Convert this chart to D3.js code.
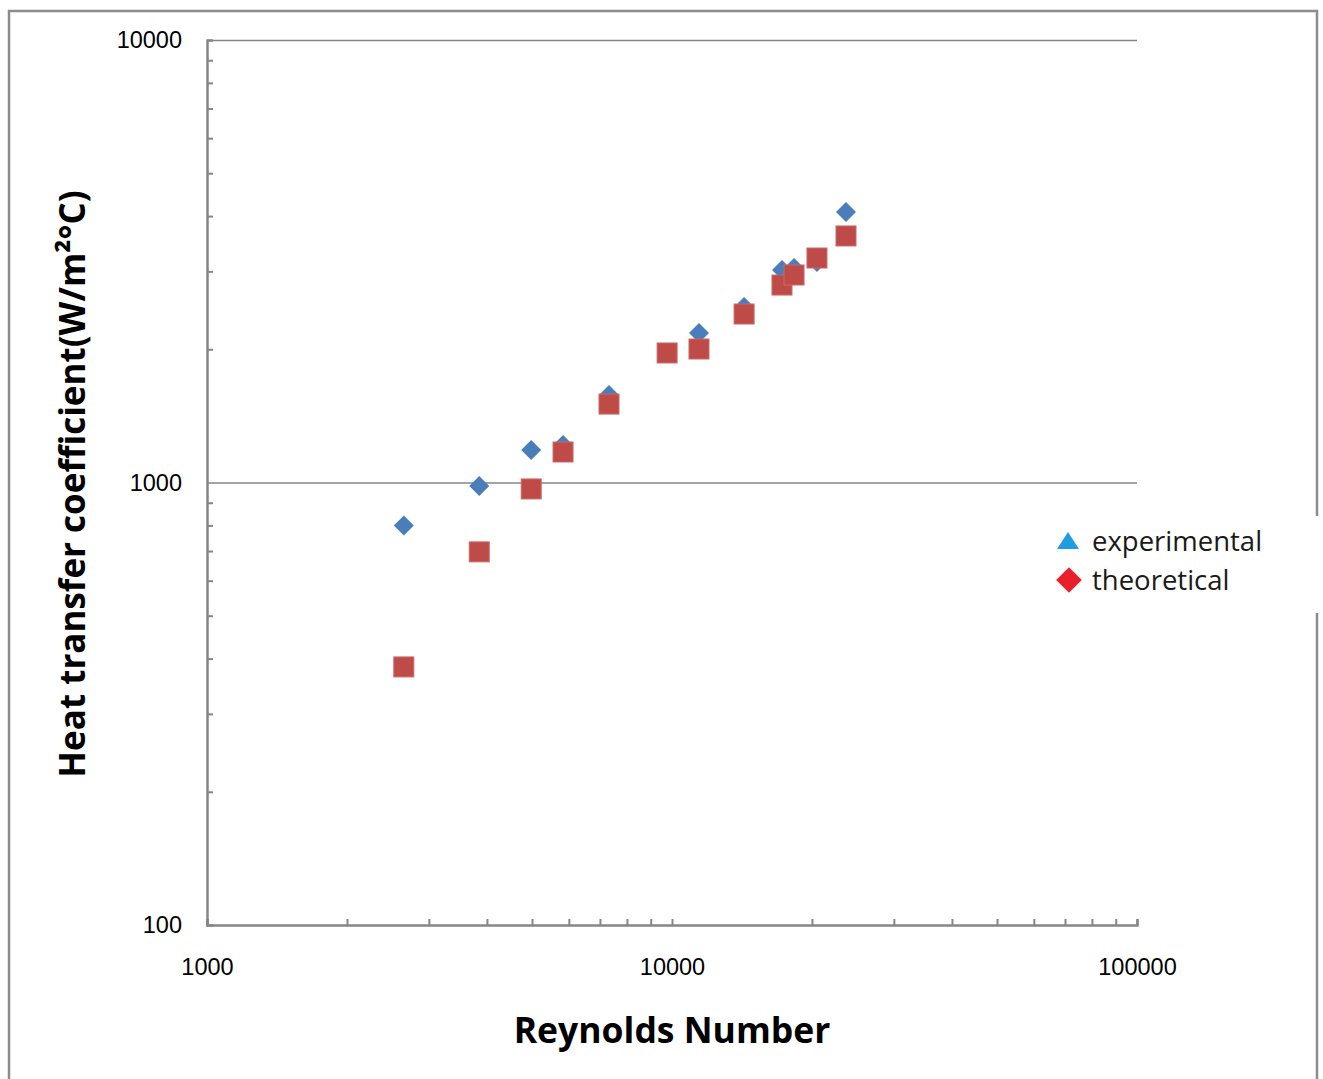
<!DOCTYPE html>
<html>
<head>
<meta charset="utf-8">
<script src="https://cdn.jsdelivr.net/npm/d3@7"></script>
<style>
  html, body { margin: 0; padding: 0; background: #fff; }
  svg { display: block; font-family: "Open Sans", "Noto Sans", sans-serif; }
  .axis path, .axis line { stroke: #868686; }
  .axis text { fill: #000; font-size: 23.5px; }
  .grid line { stroke: #868686; stroke-width: 1.5; }
  .grid path { display: none; }
</style>
</head>
<body>
<div id="chart"></div>
<script>
'use strict';

// ─── Дані ──────────────────────────────────────────────────
const reynolds      = [2650, 3850, 4980, 5830, 7320, 9760, 11430, 14290, 17240, 18300, 20500, 23670];
const hExperimental = [800, 982, 1184, 1216, 1577, 1960, 2177, 2493, 3021, 3053, 3150, 4087];
const hTheoretical  = [383, 697, 967, 1172, 1504, 1962, 2003, 2403, 2794, 2944, 3216, 3607];

const xDomain     = [1000, 100000];
const yDomain     = [100, 10000];
const xTickLabels = [1000, 10000, 100000];
const yTickLabels = [100, 1000, 10000];
const yGridValues = [1000, 10000];

const legendItems = [
  { label: 'experimental', symbol: 'triangle', color: '#1f9de0' },
  { label: 'theoretical',  symbol: 'diamond',  color: '#e8202a' }
];

// ─── Розміри ───────────────────────────────────────────────
const W = 1323, H = 1079;
const margin = { top: 40, left: 207, right: W - 1137, bottom: H - 925 };
const width  = W - margin.left - margin.right;
const height = H - margin.top - margin.bottom;

const svg = d3.select('#chart').append('svg')
  .attr('width', W).attr('height', H);

// Зовнішня рамка (з розривом праворуч біля легенди)
svg.append('path')
  .attr('d', 'M1317,516 L1317,11 L9,11 L9,1085 M1317,613 L1317,1085')
  .attr('fill', 'none').attr('stroke', '#8c8c8c').attr('stroke-width', 2.5);

const g = svg.append('g').attr('transform', `translate(${margin.left},${margin.top})`);

const x = d3.scaleLog().domain(xDomain).range([0, width]);
const y = d3.scaleLog().domain(yDomain).range([height, 0]);

// мінорні поділки 2..9 у кожній декаді
const minorTicks = dom => {
  const out = [];
  for (let d = dom[0]; d < dom[1]; d *= 10)
    for (let k = 2; k <= 9; k++) out.push(d * k);
  return out;
};

// Сітка
g.append('g').attr('class', 'grid')
  .call(d3.axisLeft(y).tickValues(yGridValues).tickSize(-width).tickFormat(''));

// Мінорні поділки
g.append('g').attr('class', 'axis')
  .call(d3.axisLeft(y).tickValues(minorTicks(yDomain)).tickSize(-6).tickFormat(''))
  .call(a => a.selectAll('line').attr('stroke-width', 2))
  .call(a => a.select('.domain').attr('stroke-width', 2.5));
g.append('g').attr('class', 'axis').attr('transform', `translate(0,${height})`)
  .call(d3.axisBottom(x).tickValues(minorTicks(xDomain).concat(xTickLabels)).tickSize(-6).tickFormat(''))
  .call(a => a.selectAll('line').attr('stroke-width', 2))
  .call(a => a.select('.domain').attr('stroke-width', 2.5));

// Підписи поділок
g.append('g').attr('class', 'axis')
  .call(d3.axisLeft(y).tickValues(yTickLabels).tickSize(0).tickPadding(25).tickFormat(d3.format('d')))
  .call(a => a.select('.domain').remove());
g.append('g').attr('class', 'axis').attr('transform', `translate(0,${height})`)
  .call(d3.axisBottom(x).tickValues(xTickLabels).tickSize(0).tickPadding(33).tickFormat(d3.format('d')))
  .call(a => a.select('.domain').remove());

// Точки: експериментальні (ромби) і теоретичні (квадрати)
const diamond = d3.symbol().type(d3.symbolSquare).size(200);
g.selectAll('.exp').data(reynolds.map((r, i) => ({ r, h: hExperimental[i] })))
  .enter().append('path').attr('class', 'exp')
  .attr('d', diamond)
  .attr('transform', d => `translate(${x(d.r)},${y(d.h)}) rotate(45)`)
  .attr('fill', '#4a7ebb');

g.selectAll('.theo').data(reynolds.map((r, i) => ({ r, h: hTheoretical[i] })))
  .enter().append('rect').attr('class', 'theo')
  .attr('x', d => x(d.r) - 10).attr('y', d => y(d.h) - 10)
  .attr('width', 20).attr('height', 20)
  .attr('fill', '#be4b48').attr('stroke', '#c96a67').attr('stroke-width', 1);

// Назви осей
svg.append('text')
  .attr('x', margin.left + width / 2).attr('y', 1043)
  .attr('text-anchor', 'middle').attr('font-weight', 'bold').attr('font-size', 35.5)
  .text('Reynolds Number');
svg.append('text')
  .attr('transform', 'translate(85,484) rotate(-90)')
  .attr('text-anchor', 'middle').attr('font-weight', 'bold').attr('font-size', 35)
  .text('Heat transfer coefficient(W/m²°C)');

// Легенда
const legend = svg.append('g').attr('transform', 'translate(1068,541)');
legendItems.forEach((it, i) => {
  const row = legend.append('g').attr('transform', `translate(0,${i * 39})`);
  if (it.symbol === 'triangle') {
    row.append('path')
      .attr('d', 'M0,-9 L11,8 L-11,8 Z')
      .attr('fill', it.color);
  } else {
    row.append('path')
      .attr('d', d3.symbol().type(d3.symbolSquare).size(330))
      .attr('transform', 'translate(1,0) rotate(45)')
      .attr('fill', it.color);
  }
  row.append('text').attr('x', 24).attr('y', 10)
    .attr('font-size', 27.5).attr('fill', '#1a1a1a')
    .text(it.label);
});
</script>
</body>
</html>
